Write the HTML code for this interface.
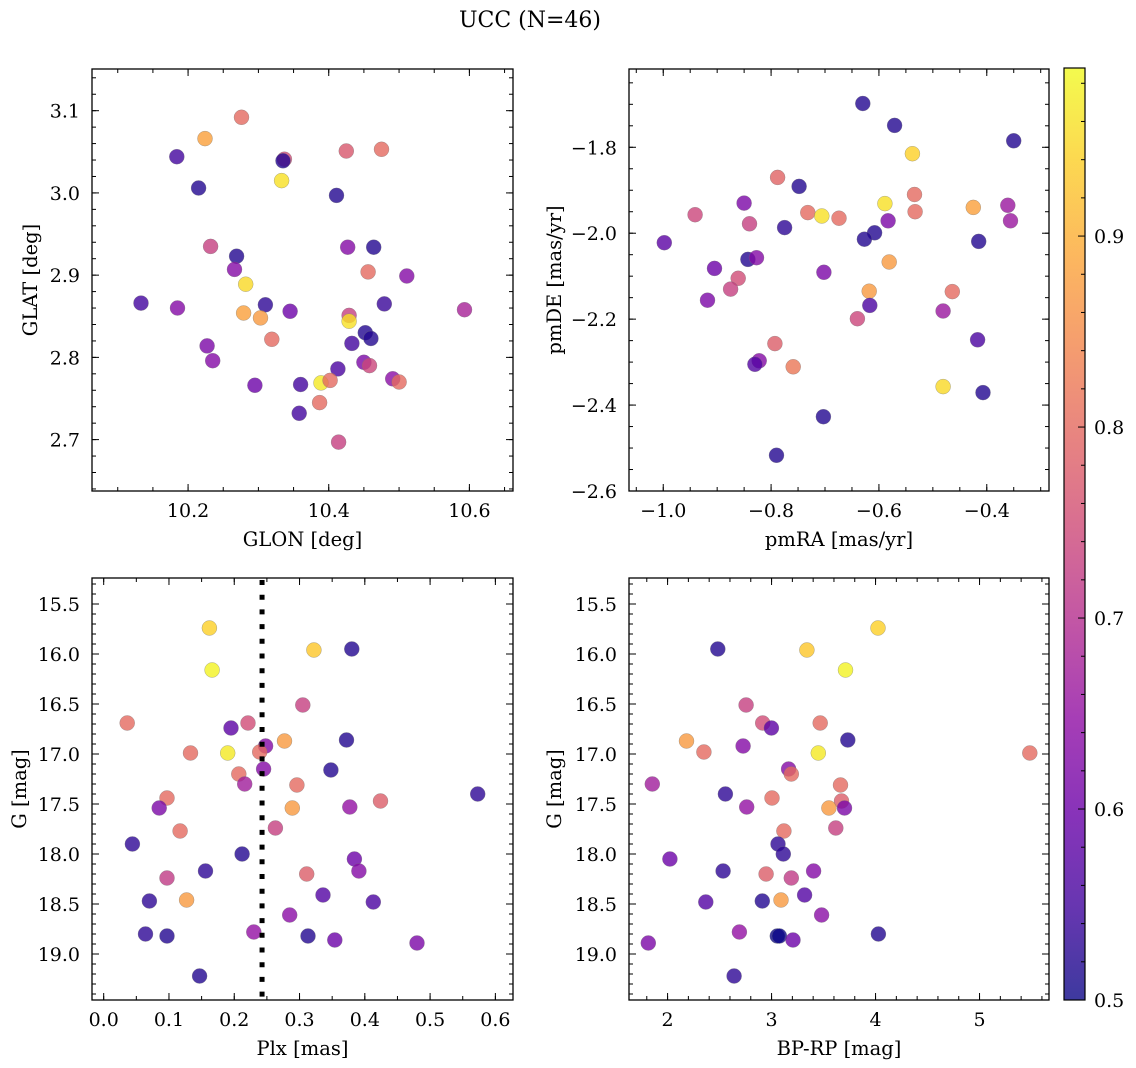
<!DOCTYPE html>
<html><head><meta charset="utf-8"><style>
html,body{margin:0;padding:0;background:#fff}
svg{display:block;font-family:"DejaVu Serif","Liberation Serif",serif}
</style></head><body>
<svg id="fig" width="1136" height="1068" viewBox="0 0 1136 1068">
<text x="530" y="27" font-size="22" text-anchor="middle">UCC (N=46)</text>
</svg>
<script>
// ---- data ----
const glon=[10.276,10.224,10.184,10.337,10.335,10.425,10.475,10.215,10.333,10.411,10.232,10.269,10.427,10.464,10.266,10.282,10.456,10.511,10.133,10.185,10.310,10.279,10.303,10.345,10.429,10.429,10.593,10.479,10.319,10.452,10.460,10.433,10.227,10.235,10.413,10.450,10.458,10.491,10.500,10.295,10.360,10.389,10.402,10.358,10.387,10.414];
const glat=[3.092,3.066,3.044,3.041,3.039,3.051,3.053,3.006,3.015,2.997,2.935,2.923,2.934,2.934,2.907,2.889,2.904,2.899,2.866,2.860,2.864,2.854,2.848,2.856,2.851,2.844,2.858,2.865,2.822,2.830,2.823,2.817,2.814,2.796,2.786,2.794,2.790,2.774,2.770,2.766,2.767,2.769,2.772,2.732,2.745,2.697];
const probA=[0.80,0.88,0.55,0.75,0.52,0.77,0.80,0.52,0.96,0.52,0.73,0.52,0.63,0.52,0.63,0.95,0.80,0.63,0.55,0.63,0.53,0.88,0.87,0.60,0.73,0.96,0.68,0.54,0.80,0.52,0.52,0.55,0.62,0.63,0.56,0.62,0.74,0.64,0.80,0.60,0.55,0.97,0.80,0.55,0.80,0.73];
const pmra=[-0.630,-0.571,-0.350,-0.538,-0.788,-0.748,-0.850,-0.941,-0.840,-0.732,-0.706,-0.674,-0.589,-0.534,-0.533,-0.583,-0.425,-0.361,-0.356,-0.775,-0.998,-0.608,-0.627,-0.415,-0.843,-0.827,-0.905,-0.861,-0.875,-0.918,-0.702,-0.581,-0.618,-0.617,-0.640,-0.464,-0.481,-0.793,-0.822,-0.830,-0.759,-0.417,-0.481,-0.407,-0.703,-0.790];
const pmde=[-1.698,-1.749,-1.785,-1.815,-1.870,-1.891,-1.930,-1.957,-1.978,-1.952,-1.960,-1.965,-1.931,-1.910,-1.950,-1.971,-1.940,-1.935,-1.971,-1.987,-2.022,-1.999,-2.014,-2.019,-2.061,-2.057,-2.082,-2.105,-2.130,-2.156,-2.091,-2.067,-2.135,-2.168,-2.199,-2.136,-2.181,-2.257,-2.297,-2.305,-2.311,-2.248,-2.357,-2.371,-2.427,-2.517];
const probB=[0.52,0.52,0.52,0.94,0.79,0.52,0.62,0.74,0.73,0.80,0.96,0.80,0.96,0.80,0.80,0.62,0.88,0.66,0.66,0.53,0.58,0.52,0.52,0.52,0.52,0.63,0.60,0.75,0.73,0.62,0.62,0.87,0.87,0.56,0.74,0.80,0.66,0.78,0.63,0.57,0.82,0.56,0.95,0.52,0.52,0.52];
const plx=[0.162,0.166,0.322,0.380,0.305,0.036,0.195,0.221,0.372,0.277,0.133,0.190,0.248,0.239,0.245,0.348,0.296,0.207,0.216,0.097,0.085,0.424,0.377,0.289,0.573,0.117,0.263,0.044,0.212,0.384,0.391,0.097,0.156,0.311,0.127,0.070,0.336,0.413,0.285,0.230,0.064,0.097,0.313,0.354,0.480,0.147];
const gmagC=[15.74,16.16,15.96,15.95,16.51,16.69,16.74,16.69,16.86,16.87,16.99,16.99,16.92,16.98,17.15,17.16,17.31,17.20,17.30,17.44,17.54,17.47,17.53,17.54,17.40,17.77,17.74,17.90,18.00,18.05,18.17,18.24,18.17,18.20,18.46,18.47,18.41,18.48,18.61,18.78,18.80,18.82,18.82,18.86,18.89,19.22];
const probC=[0.94,0.98,0.93,0.52,0.73,0.80,0.58,0.75,0.52,0.87,0.80,0.97,0.63,0.80,0.63,0.52,0.80,0.80,0.67,0.80,0.62,0.78,0.65,0.87,0.53,0.80,0.73,0.53,0.52,0.60,0.63,0.72,0.53,0.78,0.87,0.53,0.57,0.56,0.64,0.65,0.53,0.52,0.52,0.60,0.62,0.52];
const bprp=[4.024,3.340,3.711,2.483,2.755,2.915,2.998,3.468,3.733,2.182,2.349,2.726,3.449,5.483,3.164,3.190,1.853,3.663,2.556,3.004,3.673,3.701,2.761,3.551,3.119,3.618,3.062,3.113,2.022,2.534,3.404,2.947,3.190,2.368,2.911,3.091,3.318,3.481,2.691,3.055,3.075,3.206,4.027,1.815,2.640];
const gmagD=[15.74,15.96,16.16,15.95,16.51,16.69,16.74,16.69,16.86,16.87,16.98,16.92,16.99,16.99,17.15,17.20,17.30,17.31,17.40,17.44,17.47,17.54,17.53,17.54,17.77,17.74,17.90,18.00,18.05,18.17,18.17,18.20,18.24,18.48,18.47,18.46,18.41,18.61,18.78,18.82,18.82,18.86,18.80,18.89,19.22];
const probD=[0.94,0.93,0.98,0.52,0.73,0.75,0.58,0.80,0.52,0.87,0.80,0.63,0.97,0.80,0.63,0.80,0.67,0.80,0.53,0.80,0.78,0.62,0.65,0.87,0.80,0.73,0.53,0.53,0.60,0.53,0.63,0.78,0.72,0.57,0.52,0.87,0.57,0.64,0.65,0.50,0.50,0.60,0.52,0.62,0.53];
const plxLine=[0.2426];
const cbTicks=[0.5,0.6,0.7,0.8,0.9];
const cbRange=[0.5,0.988];

// ---- helpers ----
const NS="http://www.w3.org/2000/svg";
const svg=document.getElementById('fig');
function el(tag,attrs,parent){const e=document.createElementNS(NS,tag);for(const k in attrs)e.setAttribute(k,attrs[k]);(parent||svg).appendChild(e);return e;}
const plasmaStops=[[13,8,135],[65,4,157],[106,0,168],[143,13,164],[177,42,144],[204,71,120],[225,100,98],[242,132,75],[252,166,54],[252,206,37],[240,249,33]];
function plasma(t){t=Math.max(0,Math.min(1,t));const s=t*10,i=Math.min(9,Math.floor(s)),f=s-i;const a=plasmaStops[i],b=plasmaStops[i+1];return 'rgb('+a.map((v,k)=>Math.round(v+(b[k]-v)*f)).join(',')+')';}
const CB_TOP=68,CB_BOT=1000;
function cbPix(v){return CB_BOT-(v-cbRange[0])/(cbRange[1]-cbRange[0])*(CB_BOT-CB_TOP);}
function colorOf(p){return plasma((p-cbRange[0])/(cbRange[1]-cbRange[0]));}
function fmt(v,d){const s=v.toFixed(d);return v<0?'\u2212'+s.slice(1):s;}
const TF=19, LF=19.5;

function panel(o){
  const g=el('g',{});
  
  
  const sx=v=>o.L+(v-o.xmin)/(o.xmax-o.xmin)*(o.R-o.L);
  const sy=o.invert?(v=>o.T+(v-o.ymin)/(o.ymax-o.ymin)*(o.B-o.T)):(v=>o.B-(v-o.ymin)/(o.ymax-o.ymin)*(o.B-o.T));
  for(let i=0;i<o.xs.length;i++){
    const c=el('circle',{cx:sx(o.xs[i]).toFixed(1),cy:sy(o.ys[i]).toFixed(1),r:7.5,fill:colorOf(o.ps[i]),'fill-opacity':0.8,stroke:'#777','stroke-width':0.5,'stroke-opacity':0.6},g);
    
    
  }
  if(o.vline){
    const l=el('line',{x1:sx(o.vline),x2:sx(o.vline),y1:o.T+2,y2:o.B,stroke:'#000','stroke-width':5,'stroke-dasharray':'5 9.7'},g);
    
    
  }
  const tk=el('g',{stroke:'#000','stroke-width':1},g);
  const eps=1e-9;
  function range(a,b,st){const r=[];let s=Math.ceil((a-eps)/st);for(let v=s*st;v<=b+eps;v=(++s)*st)r.push(v);return r;}
  range(o.xmin,o.xmax,o.xminor).forEach(v=>{const x=sx(v);el('line',{x1:x,x2:x,y1:o.B,y2:o.B-4},tk);el('line',{x1:x,x2:x,y1:o.T,y2:o.T+4},tk);});
  range(o.ymin,o.ymax,o.yminor).forEach(v=>{const y=sy(v);el('line',{x1:o.L,x2:o.L+4,y1:y,y2:y},tk);el('line',{x1:o.R,x2:o.R-4,y1:y,y2:y},tk);});
  range(o.xmin,o.xmax,o.xmajor).forEach(v=>{const x=sx(v);el('line',{x1:x,x2:x,y1:o.B,y2:o.B-7},tk);el('line',{x1:x,x2:x,y1:o.T,y2:o.T+7},tk);
    const t=el('text',{x:x,y:o.B+26,'font-size':TF,'text-anchor':'middle'},g);t.textContent=fmt(v,o.xd);
    });
  range(o.ymin,o.ymax,o.ymajor).forEach(v=>{const y=sy(v);el('line',{x1:o.L,x2:o.L+7,y1:y,y2:y},tk);el('line',{x1:o.R,x2:o.R-7,y1:y,y2:y},tk);
    const t=el('text',{x:o.L-12,y:y+7,'font-size':TF,'text-anchor':'end'},g);t.textContent=fmt(v,o.yd);
    });
  el('rect',{x:o.L,y:o.T,width:o.R-o.L,height:o.B-o.T,fill:'none',stroke:'#000','stroke-width':1.3},g);
  const xt=el('text',{x:(o.L+o.R)/2,y:o.B+55,'font-size':LF,'text-anchor':'middle'},g);xt.textContent=o.xlabel;
  
  const yx=o.ytx,yy=(o.T+o.B)/2;
  const yt=el('text',{x:yx,y:yy,'font-size':LF,'text-anchor':'middle',transform:'rotate(-90 '+yx+' '+yy+')'},g);yt.textContent=o.ylabel;
  
}

panel({name:'glon-glat-panel',L:92,R:513,T:69,B:491,xmin:10.0634,xmax:10.662,ymin:2.6375,ymax:3.1507,xmajor:0.2,xminor:0.05,ymajor:0.1,yminor:0.02,xd:1,yd:1,xs:glon,ys:glat,ps:probA,xlabel:'GLON [deg]',ylabel:'GLAT [deg]',ytx:37});
panel({name:'proper-motion-panel',L:629,R:1049,T:69,B:491,xmin:-1.0635,xmax:-0.2846,ymin:-2.6,ymax:-1.6178,xmajor:0.2,xminor:0.05,ymajor:0.2,yminor:0.05,xd:1,yd:1,xs:pmra,ys:pmde,ps:probB,xlabel:'pmRA [mas/yr]',ylabel:'pmDE [mas/yr]',ytx:561});
panel({name:'plx-g-panel',L:92,R:513,T:578,B:1000,invert:true,xmin:-0.0179,xmax:0.627,ymin:15.24,ymax:19.46,xmajor:0.1,xminor:0.05,ymajor:0.5,yminor:0.1,xd:1,yd:1,xs:plx,ys:gmagC,ps:probC,vline:plxLine[0],xlabel:'Plx [mas]',ylabel:'G [mag]',ytx:26});
panel({name:'cmd-panel',L:629,R:1049,T:578,B:1000,invert:true,xmin:1.629,xmax:5.668,ymin:15.24,ymax:19.46,xmajor:1,xminor:0.2,ymajor:0.5,yminor:0.1,xd:0,yd:1,xs:bprp,ys:gmagD,ps:probD,xlabel:'BP-RP [mag]',ylabel:'G [mag]',ytx:561});

// ---- colorbar ----
const defs=el('defs',{});
const lg=el('linearGradient',{id:'cbg',x1:0,y1:1,x2:0,y2:0},defs);
for(let i=0;i<=20;i++){el('stop',{offset:i/20,'stop-color':plasma(i/20)},lg);}
const cb=el('g',{});


el('rect',{x:1064,y:CB_TOP,width:21,height:CB_BOT-CB_TOP,fill:'url(#cbg)','fill-opacity':0.8},cb);
cbTicks.forEach(v=>{const y=cbPix(v);el('line',{x1:1085,x2:1078,y1:y,y2:y,stroke:'#000'},cb);
  const t=el('text',{x:1094,y:y+7,'font-size':TF},cb);t.textContent=v.toFixed(1);
  });
for(let k=26;k<50;k++){const v=k*0.02;if(Math.abs(v*10-Math.round(v*10))<1e-6)continue;const y=cbPix(v);if(y<CB_TOP+2)break;el('line',{x1:1085,x2:1081,y1:y,y2:y,stroke:'#000'},cb);}
el('rect',{x:1064,y:CB_TOP,width:21,height:CB_BOT-CB_TOP,fill:'none',stroke:'#000','stroke-width':1.2},cb);
</script>
</body></html>
